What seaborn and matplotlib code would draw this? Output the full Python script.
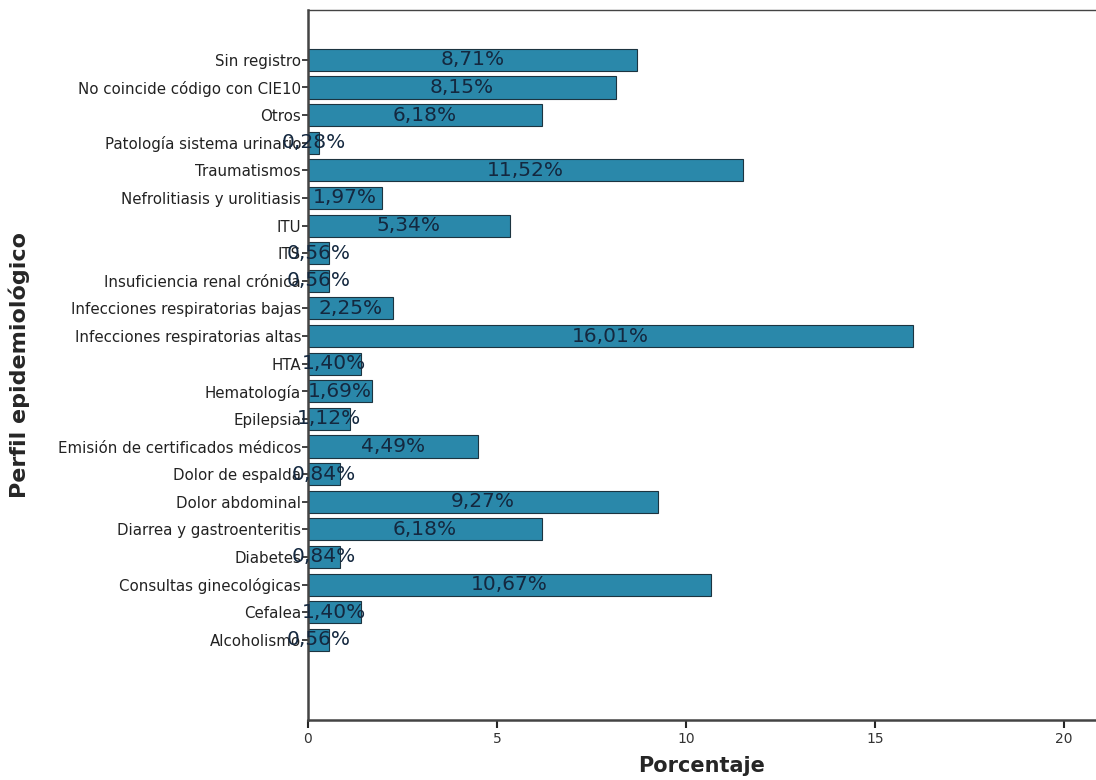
import matplotlib
matplotlib.use("Agg")
import matplotlib.pyplot as plt
import seaborn as sns
import pandas as pd

# Datos (de arriba a abajo)
categorias = [
    "Sin registro", "No coincide código con CIE10", "Otros",
    "Patología sistema urinario", "Traumatismos", "Nefrolitiasis y urolitiasis",
    "ITU", "ITS", "Insuficiencia renal crónica", "Infecciones respiratorias bajas",
    "Infecciones respiratorias altas", "HTA", "Hematología", "Epilepsia",
    "Emisión de certificados médicos", "Dolor de espalda", "Dolor abdominal",
    "Diarrea y gastroenteritis", "Diabetes", "Consultas ginecológicas",
    "Cefalea", "Alcoholismo",
]
porcentajes = [
    8.71, 8.15, 6.18, 0.28, 11.52, 1.97, 5.34, 0.56, 0.56, 2.25, 16.01,
    1.40, 1.69, 1.12, 4.49, 0.84, 9.27, 6.18, 0.84, 10.67, 1.40, 0.56,
]
xticks = [0, 5, 10, 15, 20]

df = pd.DataFrame({"Perfil": categorias, "Porcentaje": porcentajes})

sns.set_style("white")
plt.rcParams["font.family"] = ["DejaVu Sans"]

fig = plt.figure(figsize=(10.96, 7.8), dpi=100)
ax = fig.add_axes([0.281, 0.077, 0.719, 0.910])

sns.barplot(data=df, x="Porcentaje", y="Perfil", orient="h", color="#2a88aa",
            saturation=1, width=0.8, edgecolor="#1c3440", linewidth=0.8, ax=ax)

# etiquetas centradas en cada barra
for i, v in enumerate(porcentajes):
    ax.text(v / 2, i, ("%.2f%%" % v).replace(".", ","), ha="center", va="center",
            fontsize=14.5, color="#14283f")

ax.set_xlim(0, 20.85)
ax.set_ylim(len(categorias) - 1 + 2.9, -1.8)
ax.set_xticks(xticks)
ax.set_xticklabels([str(t) for t in xticks], fontsize=10, color="#333333")
ax.tick_params(axis="y", labelsize=10.8, length=4, width=1.2, direction="out",
               left=True, colors="#222222", pad=1)
ax.tick_params(axis="x", length=6, width=1.5, direction="out", bottom=True, pad=3)

for s in ["left", "bottom", "top"]:
    ax.spines[s].set_color("#444444")
    ax.spines[s].set_linewidth(1.8)
ax.spines["top"].set_linewidth(1.0)
ax.spines["right"].set_visible(False)

ax.set_xlabel("Porcentaje", fontsize=15, fontweight="bold", labelpad=7)
ax.set_ylabel("Perfil epidemiológico", fontsize=16, fontweight="bold", labelpad=20)

plt.savefig("out.png", dpi=100)
